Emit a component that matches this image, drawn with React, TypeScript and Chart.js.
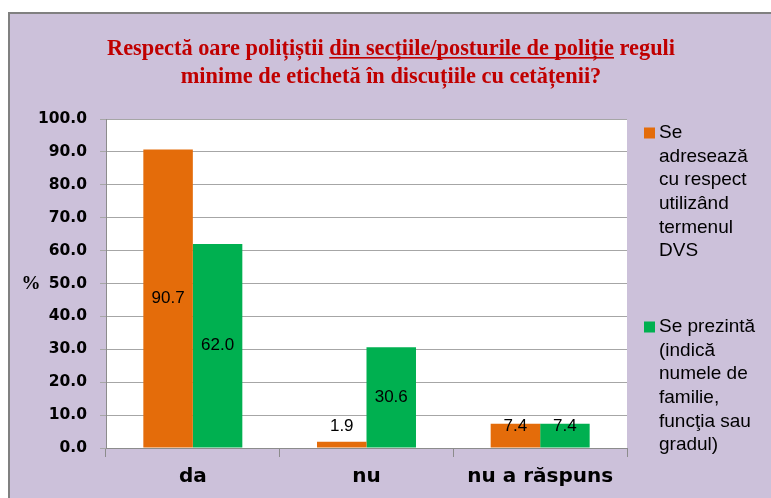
import { useEffect, useRef } from 'react';
import { Chart, registerables } from 'chart.js';

Chart.register(...registerables);

const titleLines = [
  'Respectă oare polițiștii din secțiile/posturile de poliție reguli',
  'minime de etichetă în discuțiile cu cetățenii?',
];
const titleUnderlined = 'din secțiile/posturile de poliție';
const categories = ['da', 'nu', 'nu a răspuns'];
const seriesAdreseaza = [90.7, 1.9, 7.4];
const seriesPrezinta = [62.0, 30.6, 7.4];
const legendAdreseaza = ['Se', 'adresează', 'cu respect', 'utilizând', 'termenul', 'DVS'];
const legendPrezinta = ['Se prezintă', '(indică', 'numele de', 'familie,', 'funcţia sau', 'gradul)'];
const yAxisTitle = '%';
const yMin = 0;
const yMax = 100;
const yStep = 10;

const ORANGE = '#E46C0A';
const GREEN = '#00B050';
const GRID = '#A6A6A6';
const AXIS = '#8C8C8C';
const TITLE_RED = '#C00000';

const plotBg = {
  id: 'plotBg',
  beforeDraw(chart: any) {
    const { ctx, chartArea: a } = chart;
    ctx.save();
    ctx.fillStyle = '#FFFFFF';
    ctx.fillRect(a.left, a.top, a.right - a.left, a.bottom - a.top);
    ctx.restore();
  },
};

const valueLabels = {
  id: 'valueLabels',
  afterDatasetsDraw(chart: any) {
    const { ctx } = chart;
    ctx.save();
    ctx.font = '17px "Liberation Sans"';
    ctx.fillStyle = '#000000';
    ctx.textAlign = 'center';
    ctx.textBaseline = 'middle';
    chart.data.datasets.forEach((ds: any, di: number) => {
      const meta = chart.getDatasetMeta(di);
      meta.data.forEach((bar: any, i: number) => {
        const center = (bar.y + bar.base) / 2;
        const y = Math.min(center, bar.base - 21);
        ctx.fillText(Number(ds.data[i]).toFixed(1), bar.x, y);
      });
    });
    ctx.restore();
  },
};

const decor = {
  id: 'decor',
  afterDraw(chart: any) {
    const { ctx } = chart;
    ctx.save();
    // Title
    ctx.font = 'bold 24px "Liberation Serif"';
    ctx.fillStyle = TITLE_RED;
    const cx = 391;
    const w1 = ctx.measureText(titleLines[0]).width;
    const s = 568 / w1;
    const baselines = [55, 83];
    ctx.textBaseline = 'alphabetic';
    ctx.textAlign = 'left';
    titleLines.forEach((line, li) => {
      const w = ctx.measureText(line).width;
      ctx.save();
      ctx.translate(cx, baselines[li]);
      ctx.scale(s, 1);
      ctx.fillText(line, -w / 2, 0);
      const idx = line.indexOf(titleUnderlined);
      if (idx >= 0) {
        const pre = ctx.measureText(line.slice(0, idx)).width;
        const uw = ctx.measureText(titleUnderlined).width;
        ctx.fillRect(-w / 2 + pre, 2, uw, 1.6);
      }
      ctx.restore();
    });

    // Y axis title
    ctx.font = 'bold 19px "Liberation Serif"';
    ctx.fillStyle = '#000000';
    ctx.textAlign = 'center';
    ctx.textBaseline = 'middle';
    ctx.fillText(yAxisTitle, 31, 284);

    // Legend
    const items = [
      { lines: legendAdreseaza, color: chart.data.datasets[0].backgroundColor, top: 133 },
      { lines: legendPrezinta, color: chart.data.datasets[1].backgroundColor, top: 327 },
    ];
    ctx.font = '19px "Liberation Sans"';
    ctx.textAlign = 'left';
    ctx.textBaseline = 'middle';
    items.forEach((it) => {
      ctx.fillStyle = it.color;
      ctx.fillRect(644, it.top - 5.5, 11, 11);
      ctx.fillStyle = '#000000';
      it.lines.forEach((l, k) => {
        ctx.fillText(l, 659, it.top + k * 23.6);
      });
    });
    ctx.restore();
  },
};

export default function App() {
  const ref = useRef<HTMLCanvasElement>(null);
  useEffect(() => {
    const canvas = ref.current;
    if (!canvas) return;
    const chart = new Chart(canvas, {
      type: 'bar',
      data: {
        labels: categories,
        datasets: [
          {
            label: legendAdreseaza.join(' '),
            data: seriesAdreseaza,
            backgroundColor: ORANGE,
            borderWidth: 0,
            categoryPercentage: 0.57,
            barPercentage: 1,
          },
          {
            label: legendPrezinta.join(' '),
            data: seriesPrezinta,
            backgroundColor: GREEN,
            borderWidth: 0,
            categoryPercentage: 0.57,
            barPercentage: 1,
          },
        ],
      },
      options: {
        responsive: false,
        maintainAspectRatio: false,
        animation: false,
        layout: { padding: { top: 119, right: 144, left: 0, bottom: 0 } },
        plugins: {
          legend: { display: false },
          title: { display: false },
          tooltip: { enabled: false },
        },
        scales: {
          x: {
            grid: { display: true, drawOnChartArea: false, offset: true, tickLength: 9, color: AXIS },
            border: { display: true, color: AXIS, width: 1 },
            ticks: {
              color: '#000000',
              padding: 8,
              font: { family: '"DejaVu Sans"', size: 20, weight: 'bold' },
            },
            afterFit: (sc: any) => {
              sc.height = 50;
            },
          },
          y: {
            min: yMin,
            max: yMax,
            ticks: {
              stepSize: yStep,
              padding: 13,
              color: '#000000',
              callback: (v: any) => Number(v).toFixed(1),
              font: { family: '"DejaVu Sans"', size: 15.5, weight: 'bold' },
            },
            grid: { color: GRID, tickLength: 6 },
            border: { display: true, color: AXIS, width: 1 },
            afterFit: (sc: any) => {
              sc.width = 106;
            },
          },
        },
      },
      plugins: [plotBg, valueLabels, decor],
    });
    return () => chart.destroy();
  }, []);

  return (
    <div
      style={{
        position: 'absolute',
        left: 0,
        top: 0,
        width: 771,
        height: 498,
        overflow: 'hidden',
        background: '#FFFFFF',
      }}
    >
      <div
        style={{
          position: 'absolute',
          left: 8,
          top: 12,
          width: 800,
          height: 520,
          background: '#CCC1DA',
          borderLeft: '2px solid #808080',
          borderTop: '2px solid #808080',
        }}
      />
      <canvas
        ref={ref}
        width={771}
        height={498}
        style={{ position: 'absolute', left: 0, top: 0, width: 771, height: 498, display: 'block' }}
      />
    </div>
  );
}
